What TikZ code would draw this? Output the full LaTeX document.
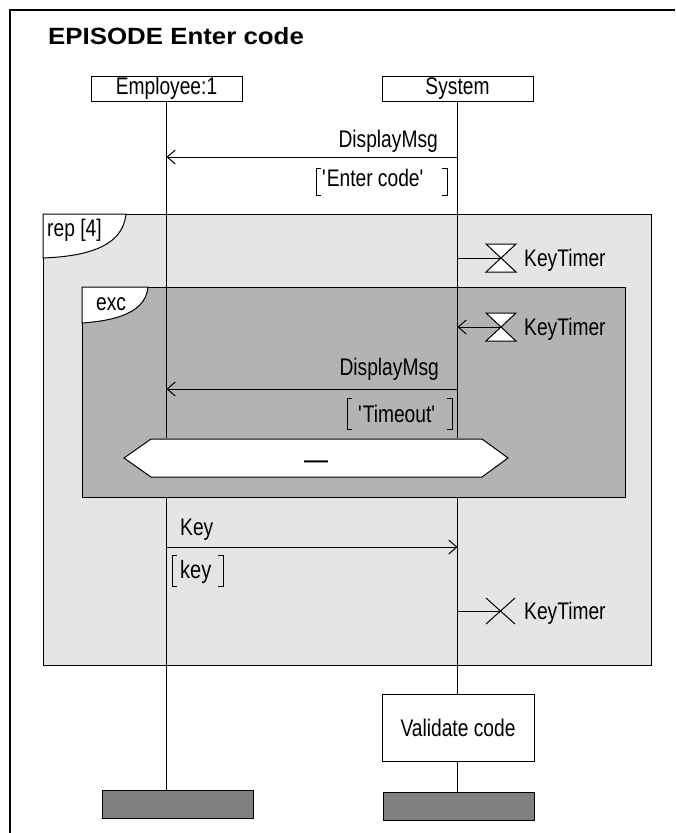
\documentclass[tikz,border=0pt]{standalone}
\usepackage{fontspec}
\setmainfont{Liberation Sans}[FakeStretch=0.8]
\newfontfamily\titlefont{Liberation Sans}[FakeStretch=1.1]
\usetikzlibrary{arrows.meta}

\definecolor{repgray}{RGB}{229,229,229}
\definecolor{excgray}{RGB}{179,179,179}
\definecolor{bargray}{RGB}{128,128,128}

\begin{document}
\begin{tikzpicture}[x=1pt,y=-1pt,
  every node/.style={inner sep=0pt, font=\fontsize{24}{28}\selectfont},
  thin line/.style={line width=1pt},
  msg/.style={line width=1pt, -{Straight Barb[length=8pt,width=14pt,line width=1pt]}},
  head/.style={draw, line width=1pt, fill=white, minimum width=151pt, minimum height=25pt},
  endbar/.style={draw, line width=1pt, fill=bargray, minimum width=151pt, minimum height=28pt},
  frag/.style={draw, line width=1pt},
  tab/.style={draw, line width=1pt, fill=white},
  timer/.style={draw, line width=1pt, fill=white},
  lbl/.style={anchor=base west},
  lblr/.style={anchor=base east}]

\useasboundingbox (0,0) rectangle (675,833);
\fill[white] (0,0) rectangle (675,833);

% outer frame
\draw[line width=1.5pt] (10,833) -- (10,10) -- (675,10);

% title
\node[lbl, font=\titlefont\bfseries\fontsize{23.5}{28}\selectfont] (title) at (48,44.5) {EPISODE Enter code};

% instance heads
\node[head] (emp) at (166.5,88.5) {Employee:1};
\node[head] (sys) at (457.5,88.5) {System};

% rep fragment
\draw[frag, fill=repgray] (43,214) rectangle (651,665);
\draw[tab] (43,214) -- (126,214) .. controls (123,243) and (95,256) .. (43,258) -- cycle;
\node[lbl] (replbl) at (47,236) {rep [4]};

% exc fragment
\draw[frag, fill=excgray] (82,287) rectangle (625,497);
\draw[tab] (82,287) -- (148,287) .. controls (146,308) and (126,320) .. (82,323) -- cycle;
\node[lbl] (exclbl) at (96,310) {exc};

% end bars and action box
\node[endbar] (empend) at (177.5,804) {};
\node[endbar] (sysend) at (458.5,806.5) {};
\node[draw, line width=1pt, fill=white, minimum width=152pt, minimum height=67pt] (val) at (458,727.5) {Validate code};

% lifeline points
\coordinate (eA) at (166.5,438);
\coordinate (eB) at (166.5,497);
\coordinate (sA) at (457.5,438);
\coordinate (sB) at (457.5,497);

% lifelines
\draw[thin line] (emp.south) -- (eA);
\draw[thin line] (eB) -- (emp.south |- empend.north);
\draw[thin line] (sys.south) -- (sA);
\draw[thin line] (sB) -- (sys.south |- val.north);
\draw[thin line] (sys.south |- val.south) -- (sys.south |- sysend.north);

% DisplayMsg 'Enter code'
\coordinate (m1s) at (457.5,157);
\coordinate (m1e) at (166.5,157);
\draw[msg] (m1s) -- (m1e);
\node[lblr] (m1lbl) at (438,147) {DisplayMsg};
\draw[thin line] (321,168) -| (316,195) -- (321,195);
\draw[thin line] (442,168) -| (447,195) -- (442,195);
\node[lbl] (m1par) at (322,186) {\textquotesingle Enter code\textquotesingle};

% KeyTimer set
\coordinate (t1) at (501,258);
\draw[thin line] (457.5,258) -- (t1);
\draw[timer] (486,244) -- (516,244) -- (486,272) -- (516,272) -- cycle;
\node[lbl] (t1lbl) at (524,266) {KeyTimer};

% KeyTimer timeout
\coordinate (t2) at (501,327);
\draw[msg] (t2) -- (457.5,327);
\draw[timer] (486,313) -- (516,313) -- (486,341) -- (516,341) -- cycle;
\node[lbl] (t2lbl) at (524,335) {KeyTimer};

% DisplayMsg 'Timeout'
\coordinate (m2s) at (457.5,389);
\coordinate (m2e) at (166.5,389);
\draw[msg] (m2s) -- (m2e);
\node[lblr] (m2lbl) at (439,375) {DisplayMsg};
\draw[thin line] (352,398) -| (347,429) -- (352,429);
\draw[thin line] (447,398) -| (452,429) -- (447,429);
\node[lbl] (m2par) at (358,422) {\textquotesingle Timeout\textquotesingle};

% exception guard
\draw[thin line, fill=white] (124,458) -- (151,439) -- (482,439) -- (508,458) -- (482,477) -- (151,477) -- cycle;
\node[anchor=base, font=\fontsize{30}{34}\selectfont] (guard) at (316,469) {\textemdash};

% Key
\coordinate (k1s) at (166.5,547);
\coordinate (k1e) at (457.5,547);
\draw[msg] (k1s) -- (k1e);
\node[lbl] (klbl) at (180,535) {Key};
\draw[thin line] (177,555) -| (172,586) -- (177,586);
\draw[thin line] (218,555) -| (223,586) -- (218,586);
\node[lbl, font=\fontsize{25}{29}\selectfont] (kpar) at (180,578) {key};

% KeyTimer reset
\coordinate (t3) at (500.5,611);
\draw[thin line] (457.5,611) -- (t3);
\draw[thin line] (486,598) -- (515,624);
\draw[thin line] (486,624) -- (515,598);
\node[lbl] (t3lbl) at (524,619) {KeyTimer};

\end{tikzpicture}
\end{document}
